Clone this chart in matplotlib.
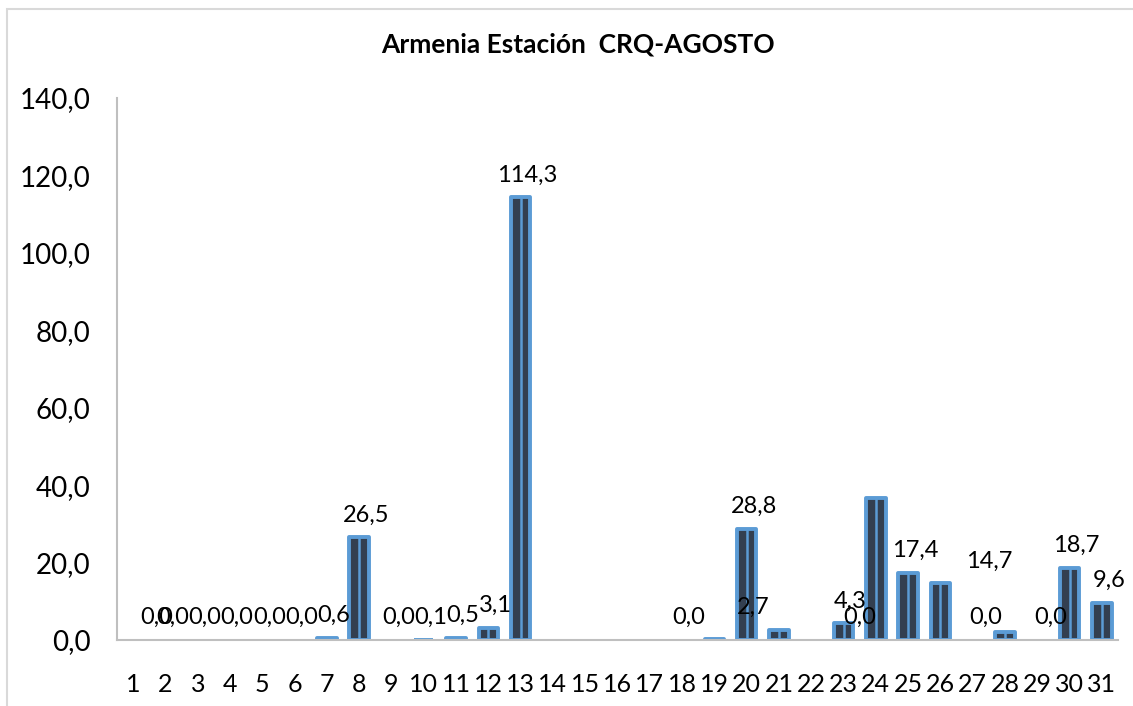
import matplotlib
matplotlib.use("Agg")
import matplotlib.pyplot as plt
from matplotlib.patches import Rectangle
from matplotlib.ticker import FuncFormatter

# Datos: precipitación diaria (mm), agosto
dias = list(range(1, 32))
lluvia = [0.0, 0.0, 0.0, 0.0, 0.0, 0.0, 0.6, 26.5, 0.0, 0.1,
          0.5, 3.1, 114.3, 0.0, 0.0, 0.0, 0.0, 0.0, 0.3, 28.8,
          2.7, 0.0, 4.3, 36.8, 17.4, 14.7, 0.0, 2.1, 0.0, 18.7,
          9.6]

# etiquetas de datos tal como aparecen en el gráfico original
etiqueta_dia = [1.5, 2, 3, 4, 5, 6, 7, 8, 9, 10, 11, 12, 13, 18,
                20, 20, 23, 23.3, 25, 27.3, 27.2, 29.2, 30, 31]
etiqueta_valor = [0.0, 0.0, 0.0, 0.0, 0.0, 0.0, 0.6, 26.5, 0.0, 0.1,
                  0.5, 3.1, 114.3, 0.0, 28.8, 2.7, 4.3, 0.0, 17.4, 14.7,
                  0.0, 0.0, 18.7, 9.6]

titulo = "Armenia Estación  CRQ-AGOSTO"

azul = "#5B9BD5"
oscuro = "#333F50"
gris = "#BFBFBF"

plt.rcParams['font.family'] = ['Lato', 'DejaVu Sans']

fig = plt.figure(figsize=(11.33, 7.06), dpi=100)
ax = fig.add_axes([117 / 1133, 1 - 640 / 706, 1001 / 1133, 542 / 706])

# sin borde para los días sin lluvia
bordes = [2.8 if v > 0 else 0 for v in lluvia]
barras = ax.bar(dias, lluvia, width=0.6, color=oscuro, edgecolor=azul,
                linewidth=bordes, zorder=2)
for b in barras:
    b.set_joinstyle('round')
# franja central azul de cada barra
ax.vlines(dias, 0, lluvia, color=azul, linewidth=1.8, zorder=3)

def coma(v, pos=None):
    return f"{v:.1f}".replace('.', ',')

for d, v in zip(etiqueta_dia, etiqueta_valor):
    ax.annotate(coma(v), (d, v), xytext=(5, 16), textcoords='offset points',
                ha='center', va='center', fontsize=17, color='black', zorder=4)

ax.set_xlim(0.5, 31.5)
ax.set_ylim(0, 140)
ax.set_yticks(range(0, 141, 20))
ax.yaxis.set_major_formatter(FuncFormatter(coma))
ax.set_xticks(dias)
ax.set_xticklabels([str(d) for d in dias])
ax.tick_params(axis='x', length=0, pad=24, labelsize=18)
ax.tick_params(axis='y', length=0, pad=19, labelsize=20)

for lado in ['top', 'right']:
    ax.spines[lado].set_visible(False)
for lado in ['left', 'bottom']:
    ax.spines[lado].set_color(gris)
    ax.spines[lado].set_linewidth(1.5)
    ax.spines[lado].set_zorder(5)

fig.text(578 / 1133, 1 - 45 / 706, titulo, ha='center', va='center',
         fontsize=19, fontweight='bold')

# borde del área del gráfico
fig.patches.append(Rectangle((7 / 1133, -0.05), 1.1, 1 - 9 / 706 + 0.05,
                             transform=fig.transFigure, fill=False,
                             edgecolor='#D9D9D9', linewidth=1.5))

fig.savefig("out.png", dpi=100)
